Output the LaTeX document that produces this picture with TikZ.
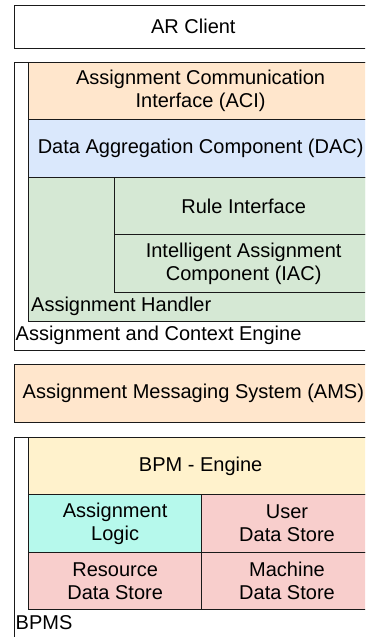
\documentclass[tikz,border=0pt]{standalone}
\usepackage{fontspec}
\setmainfont{Liberation Sans}
\definecolor{peach}{HTML}{FFE6CC}
\definecolor{lblue}{HTML}{DAE8FC}
\definecolor{lgreen}{HTML}{D5E8D4}
\definecolor{lyellow}{HTML}{FFF2CC}
\definecolor{laqua}{HTML}{B6F9EC}
\definecolor{lred}{HTML}{F8CECC}
\definecolor{edge}{HTML}{1A1A1A}
\begin{document}
\begin{tikzpicture}[x=1pt,y=-1pt,
  box/.style={draw=edge,line width=1pt,anchor=north west,inner sep=0pt,align=center,
    font=\fontsize{20}{23}\selectfont},
  lbl/.style={anchor=west,inner sep=0pt,font=\fontsize{20}{23}\selectfont}]
\useasboundingbox (0,0) rectangle (365,637);
\clip (0,0) rectangle (365,637);
\fill[white] (0,0) rectangle (365,637);
% AR Client
\node[box,minimum width=358.3pt,minimum height=43.2pt] (ar) at (13.7,4.5) {AR Client};
% ACE container
\node[box,minimum width=358.3pt,minimum height=288.3pt] (ace) at (13.7,61.7) {};
\node[box,fill=peach,minimum width=343.7pt,minimum height=57.6pt] (aci) at (28.3,61.7) {Assignment Communication\\Interface (ACI)};
\node[box,fill=lblue,minimum width=343.7pt,minimum height=57.4pt] (dac) at (28.3,119.3) {Data Aggregation Component (DAC)};
\node[box,fill=lgreen,minimum width=343.7pt,minimum height=144.3pt] (ah) at (28.3,176.7) {};
\node[box,fill=lgreen,minimum width=257.7pt,minimum height=57.6pt] (ri) at (114.3,176.7) {Rule Interface};
\node[box,fill=lgreen,minimum width=257.7pt,minimum height=58pt] (iac) at (114.3,234.3) {Intelligent Assignment\\Component (IAC)};
\node[lbl] (ahl) at (31,306.5) {Assignment Handler};
\node[lbl] (acel) at (15.5,335) {Assignment and Context Engine};
% AMS
\node[box,fill=peach,minimum width=358.3pt,minimum height=57.7pt] (ams) at (13.7,364) {Assignment Messaging System (AMS)};
% BPMS container
\node[box,minimum width=358.3pt,minimum height=270pt] (bpms) at (13.7,436.7) {};
\node[box,fill=lyellow,minimum width=343.7pt,minimum height=57.6pt] (bpm) at (28.3,436.7) {BPM - Engine};
\node[box,fill=laqua,minimum width=172.7pt,minimum height=57.4pt] (al) at (28.3,494.3) {Assignment\\Logic};
\node[box,fill=lred,minimum width=171pt,minimum height=57.4pt] (uds) at (201,494.3) {User\\Data Store};
\node[box,fill=lred,minimum width=172.7pt,minimum height=57.6pt] (rds) at (28.3,551.7) {Resource\\Data Store};
\node[box,fill=lred,minimum width=171pt,minimum height=57.6pt] (mds) at (201,551.7) {Machine\\Data Store};
\node[lbl] (bpmsl) at (15.5,623) {BPMS};
\end{tikzpicture}
\end{document}
